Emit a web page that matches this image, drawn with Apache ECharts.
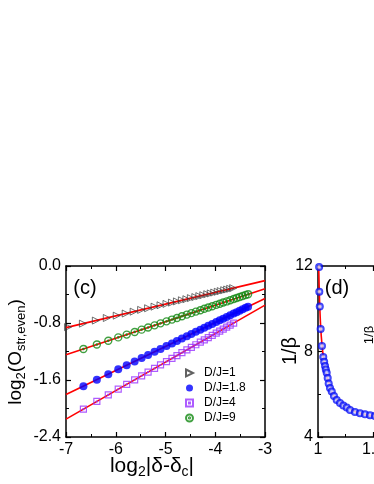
<!DOCTYPE html>
<html><head><meta charset="utf-8">
<script src="https://cdn.jsdelivr.net/npm/echarts@6/dist/echarts.min.js"></script>
<style>html,body{margin:0;padding:0;background:#fff}#c{width:374px;height:484px}</style>
</head><body><div id="c"></div>
<script>
// ---- Panel (c) data ----
const tri_x = [-6.96,-6.66,-6.40,-6.18,-5.98,-5.80,-5.64,-5.49,-5.35,-5.22,-5.10,-4.98,-4.87,-4.77,-4.67,-4.58,-4.49,-4.40,-4.32,-4.24,-4.16,-4.09,-4.02,-3.95,-3.89,-3.82,-3.76,-3.70,-3.64];
const tri_y = [-0.858,-0.809,-0.766,-0.730,-0.697,-0.667,-0.641,-0.616,-0.593,-0.571,-0.551,-0.532,-0.514,-0.497,-0.481,-0.466,-0.451,-0.436,-0.423,-0.410,-0.396,-0.385,-0.373,-0.362,-0.352,-0.340,-0.330,-0.320,-0.311];
const dj18_x = [-6.65,-6.38,-6.15,-5.95,-5.78,-5.62,-5.48,-5.35,-5.22,-5.10,-4.98,-4.87,-4.77,-4.67,-4.57,-4.48,-4.39,-4.30,-4.22,-4.14,-4.06,-3.98,-3.91,-3.84,-3.77,-3.70,-3.63,-3.57,-3.51,-3.45,-3.39,-3.34];
const dj18_y = [-1.686,-1.595,-1.518,-1.450,-1.393,-1.339,-1.292,-1.248,-1.204,-1.164,-1.123,-1.086,-1.052,-1.019,-0.985,-0.955,-0.924,-0.894,-0.867,-0.840,-0.813,-0.786,-0.763,-0.739,-0.715,-0.692,-0.668,-0.648,-0.628,-0.608,-0.587,-0.571];
const dj4_x = [-6.65,-6.38,-6.15,-5.95,-5.78,-5.62,-5.48,-5.35,-5.22,-5.10,-4.98,-4.87,-4.77,-4.67,-4.57,-4.48,-4.39,-4.30,-4.22,-4.14,-4.06,-3.98,-3.91,-3.84,-3.77,-3.70,-3.63];
const dj4_y = [-2.009,-1.901,-1.809,-1.729,-1.661,-1.597,-1.541,-1.489,-1.437,-1.389,-1.341,-1.297,-1.257,-1.217,-1.177,-1.141,-1.105,-1.069,-1.037,-1.005,-0.973,-0.941,-0.913,-0.885,-0.857,-0.829,-0.801];
const dj9_x = [-6.65,-6.38,-6.15,-5.95,-5.78,-5.62,-5.48,-5.35,-5.22,-5.10,-4.98,-4.87,-4.77,-4.67,-4.57,-4.48,-4.39,-4.30,-4.22,-4.14,-4.06,-3.98,-3.91,-3.84,-3.77,-3.70,-3.63,-3.57,-3.51,-3.45,-3.39,-3.34];
const dj9_y = [-1.165,-1.102,-1.049,-1.002,-0.963,-0.926,-0.893,-0.863,-0.833,-0.805,-0.777,-0.752,-0.729,-0.705,-0.682,-0.661,-0.640,-0.620,-0.601,-0.582,-0.564,-0.545,-0.529,-0.513,-0.497,-0.480,-0.464,-0.450,-0.436,-0.422,-0.408,-0.397];
// linear fits (red lines)
const fit_x = [-7, -3];
const fit1_y = [-0.865, -0.205];
const fit9_y = [-1.246, -0.318];
const fit18_y = [-1.804, -0.456];
const fit4_y = [-2.149, -0.549];
const legendNames = ['D/J=1', 'D/J=1.8', 'D/J=4', 'D/J=9'];

// ---- Panel (d) data ----
const d_x = [1.010,1.012,1.016,1.024,1.036,1.048,1.056,1.064,1.071,1.079,1.088,1.097,1.109,1.125,1.145,1.170,1.200,1.230,1.261,1.291,1.336,1.382,1.427,1.473,1.518];
const d_y = [11.95,10.80,10.10,9.05,8.26,7.74,7.52,7.32,7.16,7.01,6.76,6.50,6.29,6.13,5.92,5.73,5.59,5.47,5.38,5.26,5.17,5.11,5.06,5.02,4.98];
const dfit_x = [1.004,1.008,1.013,1.020,1.030,1.045,1.060,1.080,1.100,1.130,1.170,1.220,1.280,1.350,1.430,1.520,1.700];
const dfit_y = [12.6,11.6,10.6,9.6,8.7,7.9,7.35,6.9,6.5,6.05,5.75,5.50,5.32,5.16,5.05,4.97,4.86];

const zip = (xs, ys) => xs.map((x, i) => [x, ys[i]]);
const FONT = "'Liberation Sans', Arial, sans-serif";

const triPath = 'path://M0,0 L10,5 L0,10 Z';
const ringDot = 'path://M10,5 A5,5 0 1,1 9.999,4.9 Z M5.9,5 A0.9,0.9 0 1,1 5.899,4.9 Z';
const sqDot = 'path://M0,0 L10,0 L10,10 L0,10 Z M4.3,4.3 L5.7,4.3 L5.7,5.7 L4.3,5.7 Z';

function axisCommon(show) {
  return {
    axisLine: { show: true, onZero: false, lineStyle: { color: '#000', width: 1.5 } },
    axisTick: { show: true, inside: true, length: 5, lineStyle: { color: '#000', width: 1.2 } },
    minorTick: { show: true, splitNumber: 2, length: 3, lineStyle: { color: '#000', width: 1 } },
    splitLine: { show: false },
    axisLabel: { show: show, color: '#000', fontSize: 16, fontFamily: FONT, margin: 5 }
  };
}

const chart = echarts.init(document.getElementById('c'), null, { renderer: 'canvas' });

const fitLine = (ys) => ({
  type: 'line', xAxisIndex: 0, yAxisIndex: 0, data: zip(fit_x, ys), showSymbol: false,
  lineStyle: { color: '#ff0000', width: 1.6 }, z: 1, silent: true, animation: false
});

const option = {
  backgroundColor: '#fff',
  animation: false,
  grid: [
    { left: 66, top: 266, width: 199, height: 171, outerBoundsMode: 'none', containLabel: false },
    { left: 318, top: 266, width: 220, height: 171, outerBoundsMode: 'none', containLabel: false }
  ],
  xAxis: [
    Object.assign({ gridIndex: 0, type: 'value', min: -7, max: -3, interval: 1, position: 'bottom' }, axisCommon(true)),
    Object.assign({ gridIndex: 0, type: 'value', min: -7, max: -3, interval: 1, position: 'top' }, axisCommon(false)),
    Object.assign({ gridIndex: 1, type: 'value', min: 1, max: 3, interval: 0.5, position: 'bottom' }, axisCommon(true)),
    Object.assign({ gridIndex: 1, type: 'value', min: 1, max: 3, interval: 0.5, position: 'top' }, axisCommon(false))
  ],
  yAxis: [
    Object.assign({ gridIndex: 0, type: 'value', min: -2.4, max: 0, interval: 0.8, position: 'left' }, axisCommon(true)),
    Object.assign({ gridIndex: 0, type: 'value', min: -2.4, max: 0, interval: 0.8, position: 'right' }, axisCommon(false)),
    Object.assign({ gridIndex: 1, type: 'value', min: 4, max: 12, interval: 4, position: 'left' }, axisCommon(true)),
    Object.assign({ gridIndex: 1, type: 'value', min: 4, max: 12, interval: 4, position: 'right' }, axisCommon(false))
  ],
  legend: {
    data: legendNames, orient: 'vertical', left: 180, top: 362, itemWidth: 7, itemHeight: 7, itemGap: 3,
    textStyle: { fontSize: 12, fontFamily: FONT, color: '#000', padding: [0, 0, 0, 6] },
    selectedMode: false
  },
  series: [
    fitLine(fit1_y), fitLine(fit9_y), fitLine(fit18_y), fitLine(fit4_y),
    { name: 'D/J=1', type: 'scatter', xAxisIndex: 0, yAxisIndex: 0, data: zip(tri_x, tri_y),
      symbol: triPath, symbolSize: 7, z: 3,
      itemStyle: { color: 'rgba(0,0,0,0)', borderColor: '#3a3a3a', borderWidth: 0.9 } },
    { name: 'D/J=1.8', type: 'scatter', xAxisIndex: 0, yAxisIndex: 0, data: zip(dj18_x, dj18_y),
      symbol: 'circle', symbolSize: 8, z: 3, itemStyle: { color: '#0000ff' } },
    { name: 'D/J=4', type: 'scatter', xAxisIndex: 0, yAxisIndex: 0, data: zip(dj4_x, dj4_y),
      symbol: sqDot, symbolSize: 6, z: 3,
      itemStyle: { color: 'rgba(0,0,0,0)', borderColor: '#9933ff', borderWidth: 1.2 } },
    { name: 'D/J=9', type: 'scatter', xAxisIndex: 0, yAxisIndex: 0, data: zip(dj9_x, dj9_y),
      symbol: ringDot, symbolSize: 7, z: 3,
      itemStyle: { color: 'rgba(0,0,0,0)', borderColor: '#118811', borderWidth: 1.4 } },
    // panel (d)
    { type: 'line', xAxisIndex: 2, yAxisIndex: 2, data: zip(dfit_x, dfit_y), showSymbol: false, smooth: true,
      lineStyle: { color: '#ff0000', width: 1.6 }, z: 1, clip: true },
    { type: 'scatter', xAxisIndex: 2, yAxisIndex: 2, data: zip(d_x, d_y), symbol: 'circle', symbolSize: 8, z: 3,
      itemStyle: { color: { type: 'radial', x: 0.5, y: 0.5, r: 0.5,
        colorStops: [{ offset: 0, color: '#ffffff' }, { offset: 0.3, color: '#c8d0ff' }, { offset: 0.6, color: '#2030ff' }, { offset: 1, color: '#0000ee' }] } } }
  ],
  graphic: [
    { type: 'text', x: 16, y: 352, rotation: Math.PI / 2, z: 10,
      style: { text: '{n|log}{s|2}{n|(O}{s|str,even}{n|)}', align: 'center', verticalAlign: 'middle', fill: '#000',
        rich: { n: { fontSize: 19, fontFamily: FONT, lineHeight: 24, verticalAlign: 'middle' },
                s: { fontSize: 13, fontFamily: FONT, verticalAlign: 'bottom', lineHeight: 14 } } } },
    { type: 'text', x: 152, y: 466, z: 10,
      style: { text: '{n|log}{s|2}{n||δ-δ}{s|c}{n||}', align: 'center', verticalAlign: 'middle', fill: '#000',
        rich: { n: { fontSize: 21, fontFamily: FONT, lineHeight: 26, verticalAlign: 'middle' },
                s: { fontSize: 14, fontFamily: FONT, verticalAlign: 'bottom', lineHeight: 15 } } } },
    { type: 'text', x: 85, y: 288, z: 10,
      style: { text: '(c)', align: 'center', verticalAlign: 'middle', fill: '#000', font: '20px ' + FONT } },
    { type: 'text', x: 337, y: 288, z: 10,
      style: { text: '(d)', align: 'center', verticalAlign: 'middle', fill: '#000', font: '20px ' + FONT } },
    { type: 'text', x: 290, y: 351, rotation: Math.PI / 2, z: 10,
      style: { text: '1/β', align: 'center', verticalAlign: 'middle', fill: '#000', font: '20px ' + FONT } },
    { type: 'text', x: 369, y: 335, rotation: Math.PI / 2, z: 10,
      style: { text: '1/β', align: 'center', verticalAlign: 'middle', fill: '#000', font: '13px ' + FONT } }
  ]
};
option.yAxis[0].axisLabel.formatter = v => v.toFixed(1);
chart.setOption(option);
</script>
</body></html>
